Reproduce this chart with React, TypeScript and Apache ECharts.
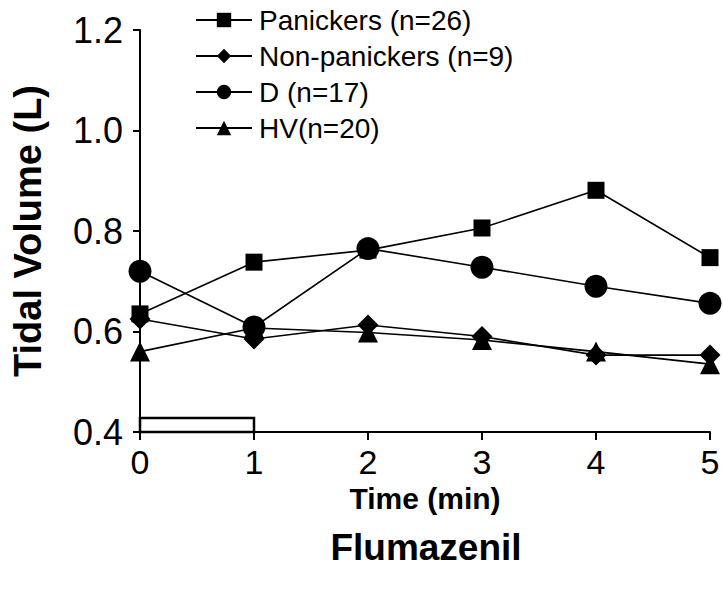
import React, { useEffect, useRef } from "react";
import * as echarts from "echarts";

const times = [0, 1, 2, 3, 4, 5];
const panickers = [0.635, 0.738, 0.762, 0.806, 0.881, 0.747];
const nonPanickers = [0.625, 0.585, 0.613, 0.59, 0.553, 0.553];
const dGroup = [0.72, 0.609, 0.765, 0.728, 0.69, 0.656];
const hvGroup = [0.56, 0.607, 0.598, 0.583, 0.56, 0.535];
const seriesNames = ["Panickers (n=26)", "Non-panickers (n=9)", "D (n=17)", "HV(n=20)"];
const symbols = ["rect", "diamond", "circle", "triangle"];
const symbolSizes = [17, 21, 23, 20];
const flumazenilStart = 0;
const flumazenilEnd = 1;
const boxBottom = 0.4;
const boxTop = 0.428;

export default function App() {
  const ref = useRef<HTMLDivElement>(null);
  useEffect(() => {
    const chart = echarts.init(ref.current!, null, { renderer: "svg" });
    const all = [panickers, nonPanickers, dGroup, hvGroup];
    const font = "'Liberation Sans', Arial, sans-serif";
    const series: any[] = all.map((vals, i) => ({
      name: seriesNames[i],
      type: "line",
      data: times.map((t, j) => [t, vals[j]]),
      symbol: symbols[i],
      symbolSize: symbolSizes[i],
      itemStyle: { color: "#000" },
      lineStyle: { color: "#000", width: 1.6 },
      z: 3 + i,
    }));
    series[0].markArea = {
      silent: true,
      itemStyle: { color: "rgba(255,255,255,1)", borderColor: "#000", borderWidth: 2.5 },
      data: [[{ coord: [flumazenilStart, boxBottom] }, { coord: [flumazenilEnd, boxTop] }]],
    };
    chart.setOption({
      animation: false,
      backgroundColor: "#fff",
      textStyle: { fontFamily: font },
      grid: { left: 140, right: 13, top: 30, bottom: 161 },
      legend: {
        orient: "vertical",
        left: 195,
        top: 6,
        padding: 0,
        itemWidth: 56,
        itemHeight: 18,
        itemGap: 8,
        textStyle: { fontSize: 28, color: "#000", fontFamily: font, padding: [0, 0, 0, 2] },
        data: seriesNames,
      },
      xAxis: {
        type: "value",
        min: 0,
        max: 5,
        interval: 1,
        name: "Time (min)",
        nameLocation: "middle",
        nameGap: 47,
        nameTextStyle: { fontSize: 30, fontWeight: "bold", color: "#000", fontFamily: font },
        axisLine: { lineStyle: { color: "#000", width: 2 } },
        axisTick: { length: 8, lineStyle: { color: "#000", width: 2 } },
        axisLabel: { fontSize: 34, color: "#000", margin: 13 },
        splitLine: { show: false },
      },
      yAxis: {
        type: "value",
        min: 0.4,
        max: 1.2,
        interval: 0.2,
        name: "Tidal Volume (L)",
        nameLocation: "middle",
        nameGap: 93,
        nameTextStyle: { fontSize: 38, fontWeight: "bold", color: "#000", fontFamily: font },
        axisLine: { lineStyle: { color: "#000", width: 2 } },
        axisTick: { length: 7, lineStyle: { color: "#000", width: 2 } },
        axisLabel: {
          fontSize: 36,
          color: "#000",
          margin: 17,
          formatter: (v: number) => v.toFixed(1),
        },
        splitLine: { show: false },
      },
      graphic: [
        {
          type: "text",
          x: 426,
          y: 547,
          style: {
            text: "Flumazenil",
            font: `bold 37px ${font}`,
            fill: "#000",
            align: "center",
            verticalAlign: "middle",
          },
        },
      ],
      series,
    });
    return () => chart.dispose();
  }, []);
  return (
    <div
      ref={ref}
      style={{ position: "absolute", left: 0, top: 0, width: 723, height: 593 }}
    />
  );
}
